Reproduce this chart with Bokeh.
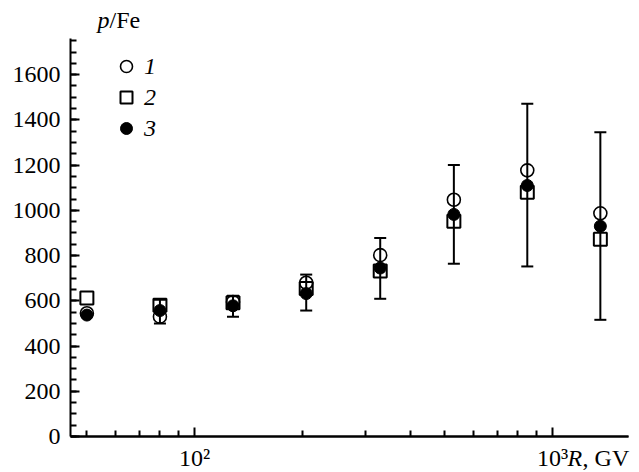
import math
from bokeh.plotting import figure
from bokeh.models import (FixedTicker, Legend, LegendItem, Whisker, ColumnDataSource,
                          TeeHead, Range1d, LogAxis)
from bokeh.core.properties import value
from bokeh.embed import file_html
from bokeh.resources import INLINE

# data
rigidity = [50, 80, 128, 205, 330, 530, 850, 1360]
ratio_1 = [545, 530, 595, 680, 802, 1047, 1177, 987]
ratio_2 = [612, 580, 591, 655, 732, 952, 1080, 872]
ratio_3 = [537, 557, 578, 632, 745, 982, 1110, 930]
err_lo_3 = [None, 500, 530, 557, 609, 764, 752, 516]
err_hi_3 = [None, 605, 622, 716, 878, 1201, 1472, 1345]
series_labels = ["1", "2", "3"]

y_major = list(range(0, 1601, 200))
y_minor = list(range(0, 1751, 50))
x_major = [100, 1000]
x_minor = [50, 60, 70, 80, 90, 200, 300, 400, 500, 600, 700, 800, 900]
x_major_labels = ["10²", "10³"]
y_title = ["p", "/Fe"]
x_title = ["R", ", GV"]

FONT = "Liberation Serif"
FS = "24px"
W, H = 639, 472
LEFT = 70
# visible axes extents (pixels in the page)
AX_RIGHT, AX_TOP, AX_BOTTOM = 628, 38, 436
X0, X1 = 45, 1630
Y0, Y1 = 0, 1760

# extend ranges so that the frame covers the whole canvas while the axes keep their extent
dec_per_px = math.log10(X1 / X0) / (AX_RIGHT - LEFT)
x_end = 10 ** (math.log10(X1) + (W - AX_RIGHT) * dec_per_px)
y_per_px = (Y1 - Y0) / (AX_BOTTOM - AX_TOP)
y_start = Y0 - (H - AX_BOTTOM) * y_per_px
y_end = Y1 + AX_TOP * y_per_px

p = figure(width=W, height=H, x_axis_type="log", x_range=Range1d(X0, x_end),
           y_range=Range1d(y_start, y_end), output_backend="svg", toolbar_location=None,
           min_border_left=LEFT, min_border_right=0, min_border_top=0, min_border_bottom=0)
p.outline_line_color = None
p.xgrid.visible = False
p.ygrid.visible = False

def style_axis(ax):
    ax.axis_line_width = 2
    ax.major_tick_line_width = 2
    ax.minor_tick_line_width = 2
    ax.major_tick_out = 0
    ax.minor_tick_out = 0
    ax.major_label_text_font = FONT
    ax.major_label_text_font_size = FS
    ax.major_label_text_color = "black"
    ax.axis_line_color = "black"
    ax.major_tick_line_color = "black"
    ax.minor_tick_line_color = "black"

yax = p.yaxis[0]
style_axis(yax)
yax.major_tick_in = 9
yax.minor_tick_in = 6
yax.ticker = FixedTicker(ticks=y_major, minor_ticks=y_minor)
yax.major_label_standoff = 10
yax.bounds = (Y0, Y1)

xax = p.xaxis[0]
style_axis(xax)
xax.ticker = FixedTicker(ticks=[], minor_ticks=x_minor)
xax.minor_tick_in = 6
xax.major_label_standoff = 0
xax.fixed_location = Y0
xax.bounds = (X0, X1)

xax2 = LogAxis(ticker=FixedTicker(ticks=[], minor_ticks=x_major), fixed_location=Y0,
               bounds=(X0, X1))
style_axis(xax2)
xax2.minor_tick_in = 9
xax2.major_label_standoff = 0
p.add_layout(xax2, "below")

r1 = p.scatter(rigidity, ratio_1, marker="circle", size=13, fill_color=None,
               line_color="black", line_width=1.6)
r2 = p.scatter(rigidity, ratio_2, marker="square", size=13, fill_color=None,
               line_color="black", line_width=2)
r3 = p.scatter(rigidity, ratio_3, marker="circle", size=12, fill_color="black",
               line_color="black", line_width=1)

idx = [i for i in range(len(rigidity)) if err_lo_3[i] is not None]
src = ColumnDataSource(dict(x=[rigidity[i] for i in idx],
                            lo=[err_lo_3[i] for i in idx],
                            hi=[err_hi_3[i] for i in idx]))
wh = Whisker(base="x", lower="lo", upper="hi", source=src, line_width=2, line_color="black",
             upper_head=TeeHead(size=12, line_width=2, line_color="black"),
             lower_head=TeeHead(size=12, line_width=2, line_color="black"))
p.add_layout(wh)

legend = Legend(items=[LegendItem(label=series_labels[0], renderers=[r1]),
                       LegendItem(label=series_labels[1], renderers=[r2]),
                       LegendItem(label=series_labels[2], renderers=[r3])],
                location=(41, 293 + (H - AX_BOTTOM)), label_text_font=FONT,
                label_text_font_style="italic", label_text_color="black",
                label_text_font_size=FS, glyph_width=30, glyph_height=30, spacing=1,
                padding=0, margin=0, border_line_color=None, background_fill_alpha=0,
                label_standoff=3, label_height=30)
p.add_layout(legend)

def txt(xs, ys, texts, dx=0, italic=False, align="left"):
    p.text(x=xs, y=ys, text=texts, x_offset=dx, text_font=value(FONT),
           text_font_style="italic" if italic else "normal", text_font_size=FS,
           text_baseline="middle", text_align=align, text_color="black")

# y-axis title above the axis (text centre 19 px from the top)
y_title_mid = Y1 + (AX_TOP - 19) * y_per_px
txt([X0], [y_title_mid], [y_title[0]], dx=27, italic=True)
txt([X0], [y_title_mid], [y_title[1]], dx=39)

# x tick labels and x-axis title below the axis (text centre 457 px from the top)
x_lab_mid = Y0 - (457 - AX_BOTTOM) * y_per_px
txt(x_major, [x_lab_mid] * len(x_major), x_major_labels, align="center")
txt([x_major[-1]], [x_lab_mid], [x_title[0]], dx=15, italic=True)
txt([x_major[-1]], [x_lab_mid], [x_title[1]], dx=30)

open("out.html", "w").write(file_html(p, INLINE))
